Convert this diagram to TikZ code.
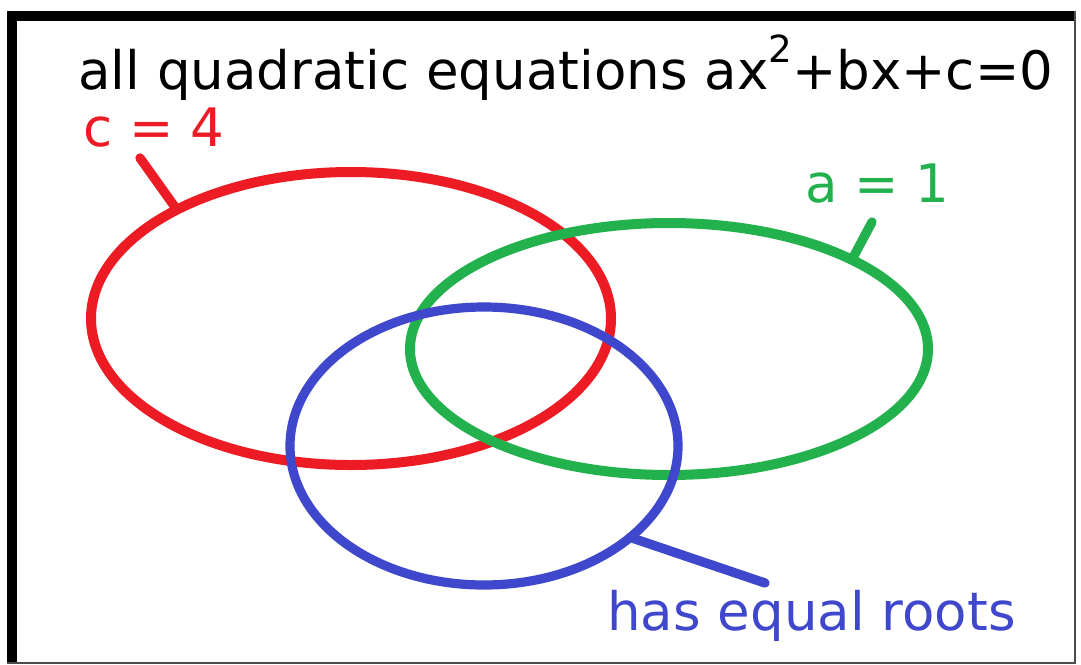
\documentclass[tikz,border=0pt]{standalone}
\usepackage{fontspec}
\setmainfont{DejaVu Sans}
\usetikzlibrary{shapes.geometric}
\definecolor{pred}{RGB}{237,28,36}
\definecolor{pgreen}{RGB}{34,177,76}
\definecolor{pblue}{RGB}{63,72,204}
\newcommand{\mysup}[1]{\raisebox{20pt}{\fontsize{28}{30}\selectfont #1}}
\begin{document}
\begin{tikzpicture}[x=0.75pt,y=-0.75pt,
  lbl/.style={anchor=base west,inner sep=0pt,font=\fontsize{39.75}{48}\selectfont},
  set/.style={draw=#1,ellipse,line width=7.5pt,inner sep=0pt,outer sep=0pt},
  lead/.style={draw=#1,line width=7pt,line cap=round}]
\useasboundingbox (0,0) rectangle (1081,664);
\fill[white] (0,0) rectangle (1081,664);
% frame
\fill[black] (7,11) rectangle (17,663);
\fill[black] (7,11) rectangle (1075,21);
\draw[gray!60!black,line width=1.2pt] (1075,11) -- (1075,663) -- (7,663);
% sets
\node[set=pred,minimum width=390pt,minimum height=219.75pt] (red) at (351,318.5) {};
\node[set=pgreen,minimum width=388.5pt,minimum height=189pt] (green) at (669,349) {};
\node[set=pblue,line width=6.9pt,minimum width=291pt,minimum height=208.5pt] (blue) at (484,446) {};
% labels
\node[lbl] (title) at (78,89) {all quadratic equations ax\mysup{2}+bx+c=0};
\node[lbl,text=pred] (lc) at (83,146) {c = 4};
\node[lbl,text=pgreen] (la) at (805,202) {a = 1};
\node[lbl,text=pblue] (lr) at (607,630) {has equal roots};
% leaders
\coordinate (rc) at (140,158);
\coordinate (gc) at (872,222);
\coordinate (bc) at (765,583);
\draw[lead=pred] (rc) -- (red.148.6);
\draw[lead=pgreen] (gc) -- (green.26);
\draw[lead=pblue] (bc) -- (blue.328);
\end{tikzpicture}
\end{document}
